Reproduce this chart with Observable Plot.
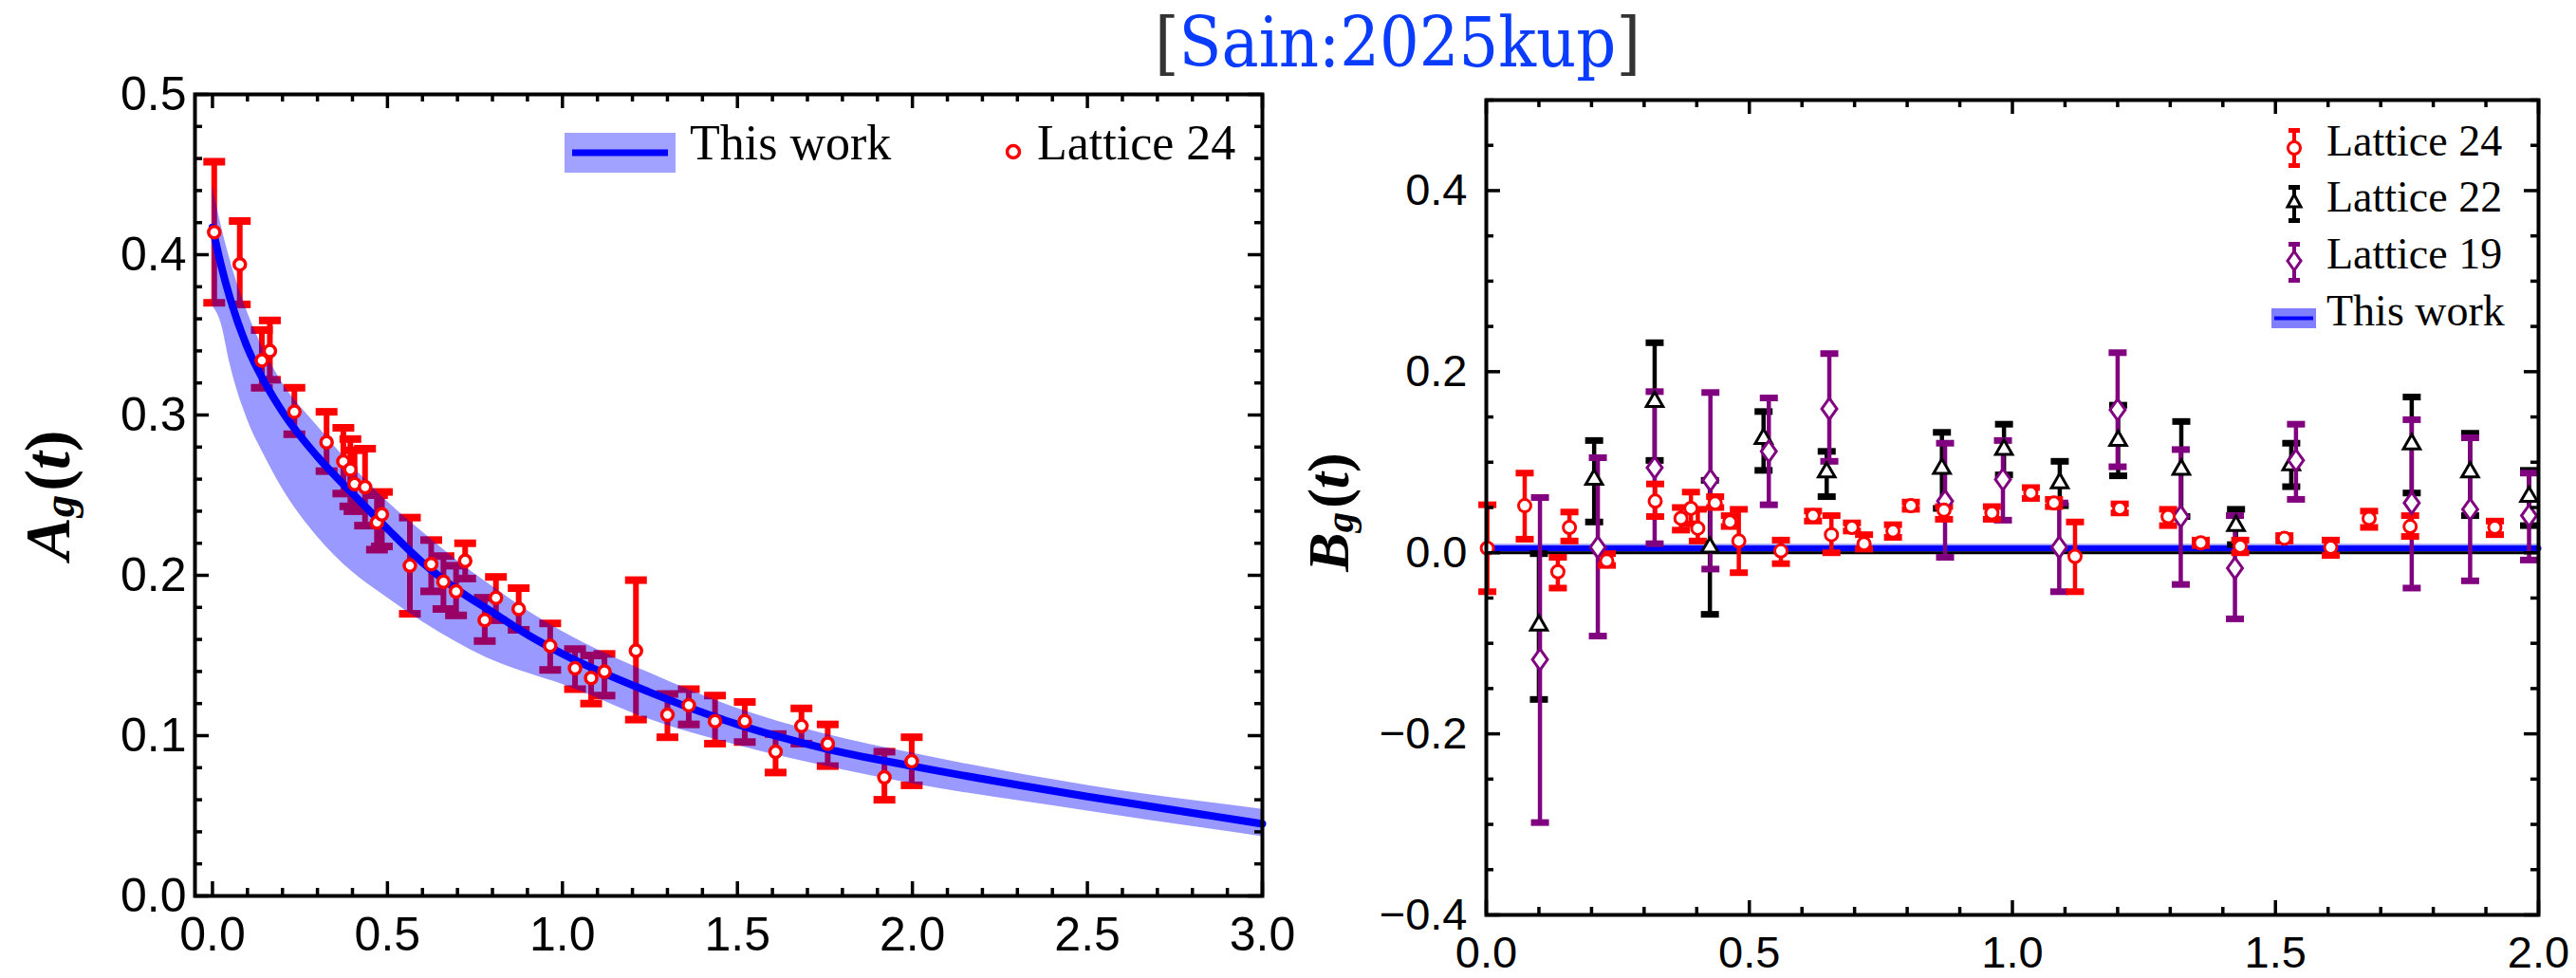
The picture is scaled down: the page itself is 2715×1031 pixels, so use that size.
<!DOCTYPE html>
<html><head><meta charset="utf-8">
<script src="https://cdn.jsdelivr.net/npm/d3@7"></script>
<script src="https://cdn.jsdelivr.net/npm/@observablehq/plot@0.6"></script>
<style>
html,body{margin:0;padding:0;background:#fff;}
#page{position:relative;width:2715px;height:1031px;overflow:hidden;background:#fff;}
#left{position:absolute;left:0;top:0;width:1370px;height:1031px;overflow:hidden;}
#right{position:absolute;left:1370px;top:0;width:1345px;height:1031px;overflow:hidden;}
#title{position:absolute;left:1217px;top:9px;font-family:'DejaVu Serif',serif;font-size:72px;line-height:1;white-space:nowrap;transform-origin:left top;}
#overlay{position:absolute;left:0;top:0;pointer-events:none;}
</style></head><body>
<div id="page">
  <div id="left"></div>
  <div id="right"></div>
  <div id="title"><span style="color:#333">[</span><span style="color:#0a3cff">Sain:2025kup</span><span style="color:#333">]</span></div>
  <svg id="overlay" width="2715" height="1031" font-family="'Liberation Serif', 'Times New Roman', serif">
    <!-- axis titles -->
    <text transform="translate(50,522) rotate(-90)" text-anchor="middle" dominant-baseline="central" font-size="68" font-weight="bold"><tspan font-style="italic">A</tspan><tspan font-style="italic" font-size="47" dy="12">g</tspan><tspan dy="-12" dx="4">(</tspan><tspan font-style="italic">t</tspan><tspan>)</tspan></text>
    <text transform="translate(1400,540) rotate(-90)" text-anchor="middle" dominant-baseline="central" font-size="62" font-weight="bold"><tspan font-style="italic">B</tspan><tspan font-style="italic" font-size="43" dy="11">g</tspan><tspan dy="-11" dx="4">(</tspan><tspan font-style="italic">t</tspan><tspan>)</tspan></text>
    <!-- left legend -->
    <rect x="595" y="140" width="117" height="42" fill="#0000ff" fill-opacity="0.37"/>
    <line x1="603" x2="704" y1="161" y2="161" stroke="#0000ff" stroke-width="7"/>
    <text x="727" y="168" font-size="52">This work</text>
    <circle cx="1068" cy="160" r="6.5" fill="#fff" stroke="#ff0000" stroke-width="3.5"/>
    <text x="1093" y="168" font-size="52">Lattice 24</text>
    <!-- right legend -->
    <line x1="2418" x2="2418" y1="138" y2="174" stroke="#ff0000" stroke-width="4"/>
    <rect x="2412" y="135" width="12" height="5" fill="#ff0000"/>
    <rect x="2412" y="172" width="12" height="5" fill="#ff0000"/>
    <circle cx="2418" cy="156" r="6.5" fill="#fff" stroke="#ff0000" stroke-width="3"/>
    <text x="2452" y="164" font-size="46">Lattice 24</text>
    <line x1="2418" x2="2418" y1="198" y2="232" stroke="#000" stroke-width="4"/>
    <rect x="2412" y="195" width="12" height="5" fill="#000"/>
    <rect x="2412" y="230" width="12" height="5" fill="#000"/>
    <path d="M2418,205 L2425,218 L2411,218 Z" fill="#fff" stroke="#000" stroke-width="3"/>
    <text x="2452" y="223" font-size="46">Lattice 22</text>
    <line x1="2418" x2="2418" y1="258" y2="295" stroke="#800080" stroke-width="4"/>
    <rect x="2412" y="255" width="12" height="5" fill="#800080"/>
    <rect x="2412" y="293" width="12" height="5" fill="#800080"/>
    <path d="M2418,265 L2425,275 L2418,285 L2411,275 Z" fill="#fff" stroke="#800080" stroke-width="3"/>
    <text x="2452" y="283" font-size="46">Lattice 19</text>
    <rect x="2394" y="325" width="47" height="21" fill="#0000ff" fill-opacity="0.5"/>
    <line x1="2397" x2="2438" y1="335.5" y2="335.5" stroke="#0000ff" stroke-width="4"/>
    <text x="2452" y="343" font-size="46">This work</text>
  </svg>
</div>
<script>
// ---------------- Left panel: A_g(t) ----------------
const tA    = [0.005,0.078,0.141,0.164,0.234,0.326,0.374,0.394,0.406,0.436,0.470,0.484,0.564,0.625,0.660,0.696,0.722,0.778,0.810,0.875,0.965,1.036,1.082,1.120,1.210,1.300,1.361,1.436,1.521,1.609,1.683,1.758,1.920,1.998];
const A24   = [0.414,0.394,0.334,0.340,0.302,0.283,0.271,0.266,0.257,0.255,0.233,0.238,0.206,0.207,0.196,0.190,0.209,0.172,0.186,0.179,0.156,0.142,0.136,0.140,0.153,0.113,0.119,0.109,0.109,0.090,0.106,0.095,0.074,0.084];
const A24lo = [0.370,0.369,0.317,0.322,0.288,0.265,0.251,0.243,0.240,0.231,0.216,0.218,0.176,0.190,0.179,0.175,0.198,0.159,0.172,0.166,0.141,0.129,0.120,0.125,0.110,0.099,0.107,0.095,0.096,0.077,0.095,0.081,0.060,0.069];
const A24hi = [0.458,0.421,0.353,0.359,0.317,0.302,0.292,0.285,0.278,0.279,0.250,0.252,0.236,0.222,0.212,0.206,0.220,0.186,0.199,0.192,0.170,0.154,0.150,0.151,0.197,0.126,0.129,0.125,0.121,0.101,0.117,0.107,0.090,0.099];

const tFitA  = [0,0.025,0.05,0.1,0.15,0.2,0.3,0.4,0.5,0.6,0.7,0.8,0.9,1.0,1.25,1.5,1.75,2.0,2.5,3.0];
const AFit   = [0.417,0.393,0.373,0.342,0.320,0.302,0.274,0.251,0.229,0.208,0.191,0.177,0.163,0.151,0.127,0.107,0.092,0.081,0.062,0.045];
const AFitLo = [0.368,0.357,0.332,0.297,0.274,0.254,0.224,0.202,0.186,0.171,0.158,0.147,0.139,0.132,0.110,0.094,0.081,0.070,0.053,0.037];
const AFitHi = [0.443,0.418,0.397,0.364,0.339,0.320,0.293,0.268,0.246,0.227,0.209,0.193,0.178,0.165,0.139,0.117,0.101,0.089,0.069,0.054];

const xMajA = [0,0.5,1,1.5,2,2.5,3];
const yMajA = [0,0.1,0.2,0.3,0.4,0.5];

// ---------------- Right panel: B_g(t) ----------------
const tB24  = [0.002,0.073,0.136,0.158,0.229,0.321,0.370,0.389,0.402,0.435,0.463,0.480,0.560,0.621,0.656,0.695,0.718,0.773,0.807,0.870,0.961,1.035,1.079,1.119,1.204,1.296,1.358,1.433,1.517,1.605,1.678,1.756,1.917];
const B24   = [0.005,0.052,-0.021,0.028,-0.009,0.057,0.038,0.049,0.027,0.055,0.034,0.013,0.002,0.041,0.020,0.028,0.010,0.024,0.052,0.047,0.044,0.066,0.055,-0.004,0.049,0.040,0.011,0.007,0.016,0.006,0.038,0.029,0.028];
const B24lo = [-0.043,0.015,-0.039,0.013,-0.014,0.040,0.025,0.032,0.013,0.050,0.029,-0.022,-0.012,0.035,0.000,0.024,0.004,0.017,0.048,0.037,0.037,0.060,0.051,-0.043,0.044,0.030,0.008,0.000,0.013,-0.003,0.028,0.018,0.020];
const B24hi = [0.053,0.088,-0.005,0.045,-0.001,0.076,0.050,0.067,0.048,0.062,0.041,0.048,0.014,0.046,0.041,0.033,0.020,0.031,0.056,0.051,0.051,0.072,0.059,0.034,0.054,0.048,0.014,0.014,0.019,0.014,0.046,0.041,0.035];

const tB22  = [0.100,0.205,0.320,0.425,0.527,0.647,0.866,0.984,1.090,1.201,1.321,1.425,1.530,1.759,1.870,1.982];
const B22   = [-0.080,0.081,0.167,0.006,0.126,0.089,0.093,0.114,0.077,0.124,0.092,0.030,0.097,0.120,0.089,0.062];
const B22lo = [-0.162,0.034,0.102,-0.068,0.091,0.062,0.049,0.086,0.052,0.085,0.040,0.009,0.073,0.066,0.041,0.030];
const B22hi = [-0.001,0.124,0.232,0.080,0.156,0.112,0.133,0.142,0.101,0.163,0.145,0.048,0.121,0.172,0.132,0.091];

const tB19  = [0.102,0.212,0.320,0.426,0.537,0.652,0.872,0.982,1.089,1.200,1.320,1.423,1.539,1.759,1.870,1.982];
const B19   = [-0.118,0.006,0.094,0.080,0.112,0.159,0.057,0.081,0.006,0.158,0.040,-0.017,0.102,0.055,0.048,0.041];
const B19lo = [-0.298,-0.092,0.010,-0.018,0.053,0.101,-0.005,0.036,-0.043,0.095,-0.035,-0.073,0.059,-0.039,-0.031,-0.008];
const B19hi = [0.061,0.105,0.178,0.177,0.171,0.220,0.121,0.124,0.055,0.221,0.114,0.041,0.142,0.147,0.127,0.088];

const tFitB  = [0, 2];
const BFit   = [0.005, 0.005];
const BFitLo = [0.000, 0.000];
const BFitHi = [0.0095, 0.0095];

const xMajB = [0,0.5,1,1.5,2];
const yMajB = [-0.4,-0.2,0,0.2,0.4];

// ---------------- helpers ----------------
const fmt = d3.format(".1f");
const rows = (t, v, lo, hi) => t.map((d, i) => ({t: d, v: v[i], lo: lo[i], hi: hi[i]}));
const capSym = (w, h) => ({draw(ctx) { ctx.moveTo(-w/2, -h/2); ctx.lineTo(w/2, -h/2); ctx.lineTo(w/2, h/2); ctx.lineTo(-w/2, h/2); ctx.closePath(); }});
const rhombus = {draw(ctx, size) { const w = Math.sqrt(size / 0.7), h = 1.4 * w; ctx.moveTo(0, -h/2); ctx.lineTo(w/2, 0); ctx.lineTo(0, h/2); ctx.lineTo(-w/2, 0); ctx.closePath(); }};
const minorOf = (lo, hi, step, majors) => d3.range(Math.round((hi - lo) / step) + 1).map(i => +(lo + i * step).toFixed(4)).filter(v => !majors.some(m => Math.abs(m - v) < 1e-6));

function frameTicks(xMaj, xMin, yMaj, yMin, fw, fh) {
  const M = 15, m = 8, sw = 3.5;
  return [
    Plot.tickX(xMaj, {insetTop: fh - M, strokeWidth: sw}),
    Plot.tickX(xMaj, {insetBottom: fh - M, strokeWidth: sw}),
    Plot.tickX(xMin, {insetTop: fh - m, strokeWidth: sw}),
    Plot.tickX(xMin, {insetBottom: fh - m, strokeWidth: sw}),
    Plot.tickY(yMaj, {insetRight: fw - M, strokeWidth: sw}),
    Plot.tickY(yMaj, {insetLeft: fw - M, strokeWidth: sw}),
    Plot.tickY(yMin, {insetRight: fw - m, strokeWidth: sw}),
    Plot.tickY(yMin, {insetLeft: fw - m, strokeWidth: sw})
  ];
}
function errorBars(data, color, bw, cw, ch) {
  return [
    Plot.ruleX(data, {x: "t", y1: "lo", y2: "hi", stroke: color, strokeWidth: bw}),
    Plot.dot(data, {x: "t", y: "lo", symbol: capSym(cw, ch), fill: color, stroke: "none"}),
    Plot.dot(data, {x: "t", y: "hi", symbol: capSym(cw, ch), fill: color, stroke: "none"})
  ];
}

// ---------------- left chart ----------------
const dA = rows(tA, A24, A24lo, A24hi);
const fA = rows(tFitA, AFit, AFitLo, AFitHi);
const left = Plot.plot({
  width: 1370, height: 1031,
  marginLeft: 205, marginRight: 40, marginTop: 99, marginBottom: 87,
  x: {domain: [-0.05, 3.0]},
  y: {domain: [0, 0.5]},
  style: {fontFamily: "'Liberation Sans', Arial, sans-serif", fontSize: "50px", color: "black", background: "transparent"},
  marks: [
    ...errorBars(dA, "#ff0000", 6, 23, 8),
    Plot.areaY(fA, {x: "t", y1: "lo", y2: "hi", fill: "#0000ff", fillOpacity: 0.4, curve: "monotone-x"}),
    Plot.lineY(fA, {x: "t", y: "v", stroke: "#0000ff", strokeWidth: 8, curve: "monotone-x"}),
    Plot.dot(dA, {x: "t", y: "v", r: 6, fill: "white", stroke: "#ff0000", strokeWidth: 3.5}),
    ...frameTicks(xMajA, minorOf(0, 3, 0.1, xMajA), yMajA, minorOf(0, 0.5, 0.02, yMajA), 1125, 845),
    Plot.frame({strokeWidth: 4}),
    Plot.axisX({ticks: xMajA, tickSize: 0, tickPadding: 22, tickFormat: fmt, label: null}),
    Plot.axisY({ticks: yMajA, tickSize: 0, tickPadding: 9, tickFormat: fmt, label: null})
  ]
});
document.getElementById("left").appendChild(left);

// ---------------- right chart ----------------
const d24 = rows(tB24, B24, B24lo, B24hi);
const d22 = rows(tB22, B22, B22lo, B22hi);
const d19 = rows(tB19, B19, B19lo, B19hi);
const fB = rows(tFitB, BFit, BFitLo, BFitHi);
const right = Plot.plot({
  width: 1345, height: 1031,
  marginLeft: 196, marginRight: 40, marginTop: 105, marginBottom: 67,
  x: {domain: [0, 2]},
  y: {domain: [-0.4, 0.5]},
  style: {fontFamily: "'Liberation Sans', Arial, sans-serif", fontSize: "47px", color: "black", background: "transparent"},
  marks: [
    Plot.areaY(fB, {x: "t", y1: "lo", y2: "hi", fill: "#0000ff", fillOpacity: 0.4}),
    Plot.lineY(fB, {x: "t", y: "v", stroke: "#0000ff", strokeWidth: 6}),
    Plot.ruleY([0], {stroke: "black", strokeWidth: 3}),
    ...errorBars(d22, "#000000", 4.5, 19, 7),
    ...errorBars(d19, "#800080", 4.5, 19, 7),
    ...errorBars(d24, "#ff0000", 4.5, 19, 7),
    Plot.dot(d22, {x: "t", y: "v", symbol: "triangle", r: 6.5, fill: "white", stroke: "black", strokeWidth: 3}),
    Plot.dot(d19, {x: "t", y: "v", symbol: rhombus, r: 7.5, fill: "white", stroke: "#800080", strokeWidth: 3}),
    Plot.dot(d24, {x: "t", y: "v", r: 6.5, fill: "white", stroke: "#ff0000", strokeWidth: 3}),
    ...frameTicks(xMajB, minorOf(0, 2, 0.1, xMajB), yMajB, minorOf(-0.4, 0.5, 0.05, yMajB), 1109, 859),
    Plot.frame({strokeWidth: 4}),
    Plot.axisX({ticks: xMajB, tickSize: 0, tickPadding: 22, tickFormat: fmt, label: null}),
    Plot.axisY({ticks: yMajB, tickSize: 0, tickPadding: 20, tickFormat: fmt, label: null})
  ]
});
document.getElementById("right").appendChild(right);

// fit title width to the reference extent
const title = document.getElementById("title");
const w = title.getBoundingClientRect().width;
title.style.transform = `scaleX(${512 / w})`;
</script>
</body></html>
